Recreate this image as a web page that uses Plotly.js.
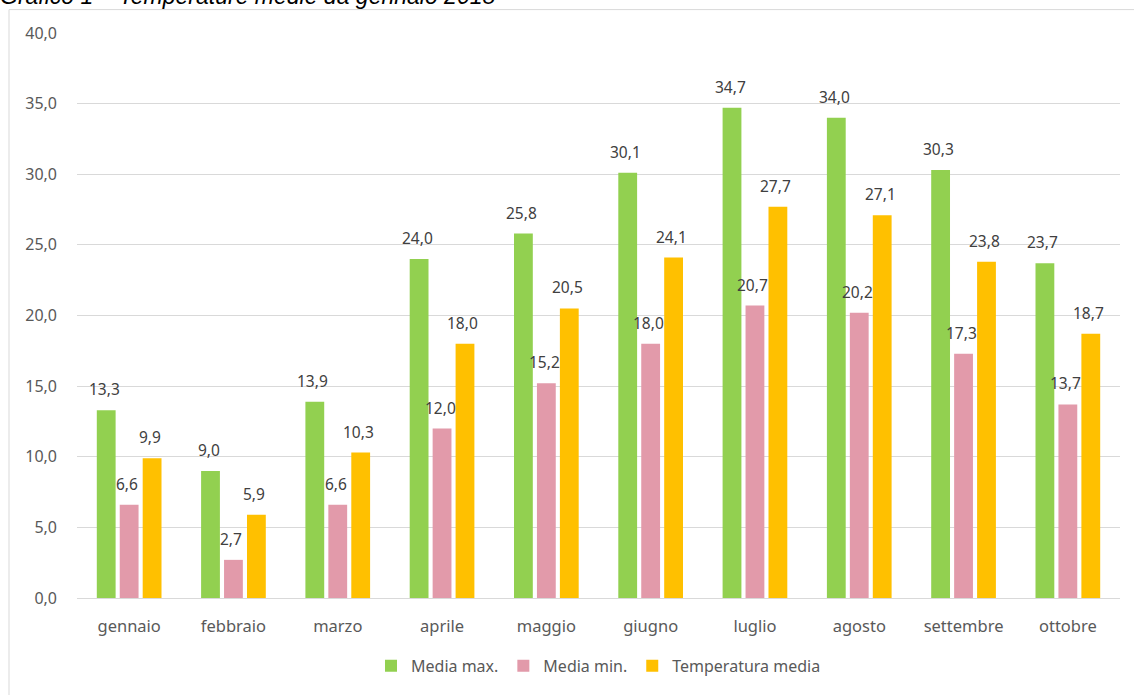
<!DOCTYPE html>
<html>
<head>
<meta charset="utf-8">
<script src="https://cdn.plot.ly/plotly-3.0.1.min.js"></script>
<style>
html,body{margin:0;padding:0;background:#fff;}
#chart{width:1134px;height:695px;}
</style>
</head>
<body>
<div id="chart"></div>
<script>
const months = ["gennaio","febbraio","marzo","aprile","maggio","giugno","luglio","agosto","settembre","ottobre"];
const mediaMax = [13.3, 9.0, 13.9, 24.0, 25.8, 30.1, 34.7, 34.0, 30.3, 23.7];
const mediaMin = [6.6, 2.7, 6.6, 12.0, 15.2, 18.0, 20.7, 20.2, 17.3, 13.7];
const tempMedia = [9.9, 5.9, 10.3, 18.0, 20.5, 24.1, 27.7, 27.1, 23.8, 18.7];
const seriesNames = ["Media max.", "Media min.", "Temperatura media"];
const titleText = "Grafico 1 – Temperature medie da gennaio 2018";

const colors = ["#92D050", "#E29AAA", "#FFC000"];
const FONT = "Noto Sans, Open Sans, sans-serif";
const BARGAP = 0.34;

function mk(vals, name, color) {
  return {
    type: "bar",
    x: months,
    y: vals,
    name: name,
    marker: {color: color},
    hoverinfo: "x+y+name"
  };
}

const allSeries = [mediaMax, mediaMin, tempMedia];
const data = allSeries.map((s, i) => mk(s, seriesNames[i], colors[i]));

// data labels as annotations above each bar (offset within group computed from bar geometry)
const plotW = 1134 - 77 - 14;
const slotPx = plotW / months.length * (1 - BARGAP) / 3;
const annotations = [];
allSeries.forEach((s, si) => {
  s.forEach((v, ci) => {
    annotations.push({
      xref: "x", yref: "y",
      x: months[ci], y: v,
      text: v.toFixed(1).replace(".", ","),
      showarrow: false,
      xanchor: "center", yanchor: "bottom",
      xshift: (si - 1) * slotPx - 2,
      yshift: 8,
      font: {family: FONT, size: 15.5, color: "#404040"}
    });
  });
});

const layout = {
  width: 1134,
  height: 695,
  separators: ",.",
  margin: {l: 77, r: 14, t: 33, b: 95},
  paper_bgcolor: "#ffffff",
  plot_bgcolor: "#ffffff",
  font: {family: FONT, color: "#595959", size: 14},
  barmode: "group",
  bargap: BARGAP,
  bargroupgap: 0.18,
  title: {
    text: titleText,
    font: {family: "Liberation Sans, Arial, sans-serif", size: 23, color: "#000000", style: "italic"},
    xref: "container", yref: "container",
    x: 0.0, xanchor: "left",
    y: 0.994, yanchor: "bottom",
    pad: {l: 0, r: 0, t: 0, b: 0}
  },
  xaxis: {
    type: "category",
    showgrid: false,
    showline: false,
    zeroline: false,
    ticks: "",
    tickfont: {family: FONT, size: 16.5, color: "#595959"},
    ticklabelstandoff: 16
  },
  yaxis: {
    range: [0, 40],
    dtick: 5,
    tickformat: ".1f",
    showgrid: true,
    gridcolor: "#D9D9D9",
    gridwidth: 1,
    zeroline: true,
    zerolinecolor: "#D9D9D9",
    zerolinewidth: 1,
    showline: false,
    ticks: "",
    ticklabelstandoff: 19,
    tickfont: {family: FONT, size: 16, color: "#595959"},
    fixedrange: true
  },
  legend: {
    orientation: "h",
    x: 0.5, xanchor: "center",
    y: -0.12, yanchor: "middle",
    font: {family: FONT, size: 16, color: "#595959"},
    itemwidth: 30,
    traceorder: "normal"
  },
  annotations: annotations,
  shapes: [{
    type: "rect",
    xref: "paper", yref: "paper",
    x0: (9 - 77) / 1043, x1: (1140 - 77) / 1043,
    y0: (600 - 710) / 567, y1: (600 - 9.5) / 567,
    line: {color: "#D9D9D9", width: 1},
    fillcolor: "rgba(0,0,0,0)",
    layer: "below"
  }]
};

Plotly.newPlot("chart", data, layout, {displayModeBar: false, staticPlot: true});
</script>
</body>
</html>
